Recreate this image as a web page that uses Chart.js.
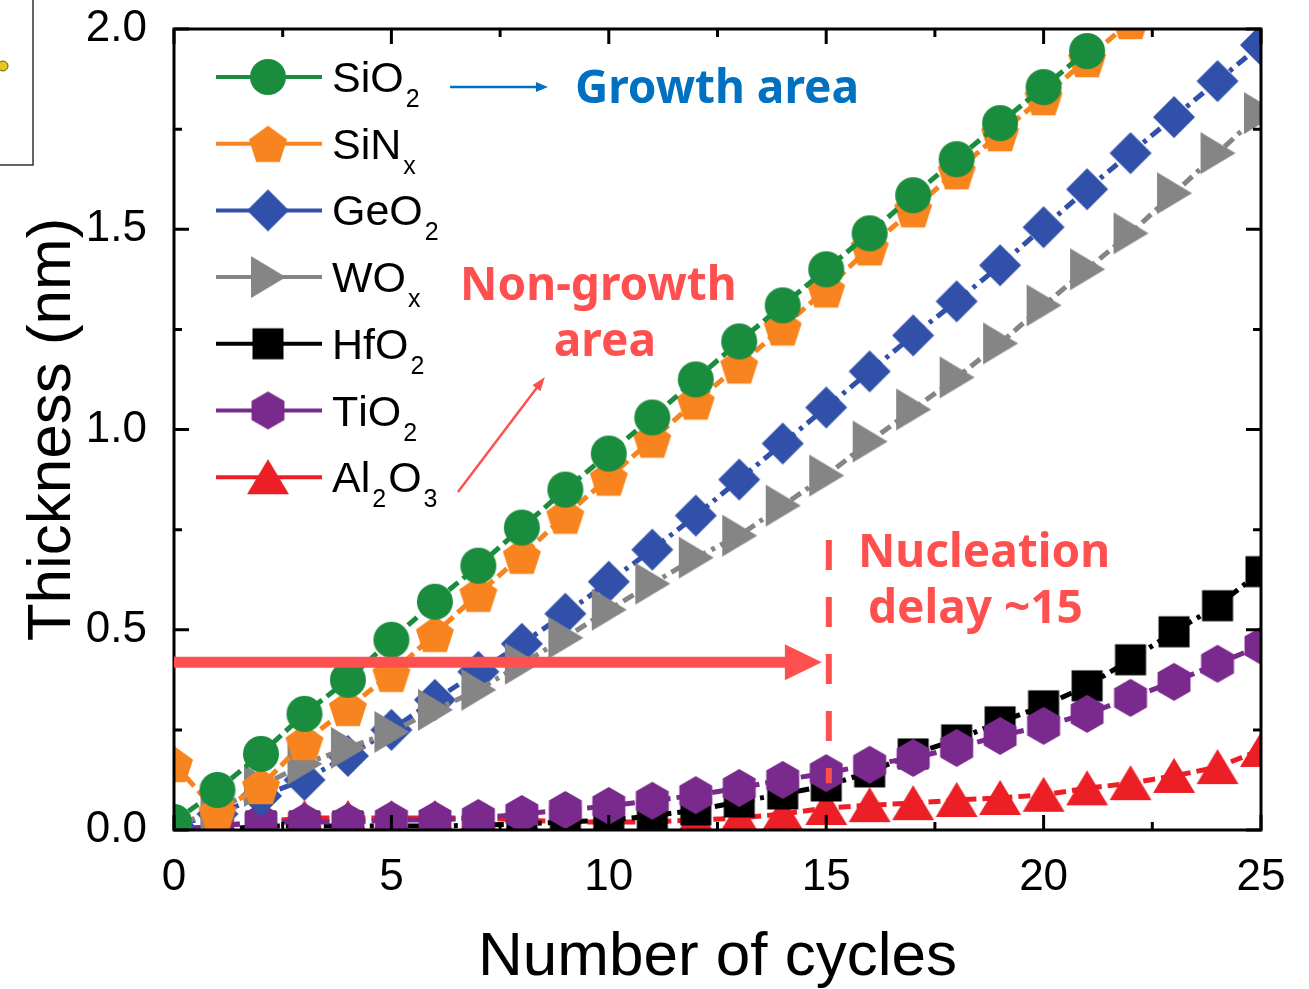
<!DOCTYPE html>
<html>
<head>
<meta charset="utf-8">
<script src="https://cdn.jsdelivr.net/npm/chart.js@4.4.1/dist/chart.umd.min.js"></script>
<style>
  html, body { margin: 0; padding: 0; background: #fff; }
  #wrap { width: 1309px; height: 989px; position: relative; }
</style>
</head>
<body>
<div id="wrap"><canvas id="chart" width="1309" height="989"></canvas></div>
<script>
/* ======================
   DATA
====================== */
const cycles = [0, 1, 2, 3, 4, 5, 6, 7, 8, 9, 10, 11, 12, 13, 14, 15, 16, 17, 18, 19, 20, 21, 22, 23, 24, 25];

const sio2  = [0.02, 0.10, 0.19, 0.29, 0.375, 0.475, 0.57, 0.66, 0.755, 0.85, 0.94, 1.03, 1.125, 1.22, 1.31, 1.40, 1.49, 1.585, 1.675, 1.765, 1.855, 1.945, null, null, null, null];
const sinx  = [0.165, 0.045, 0.11, 0.22, 0.305, 0.39, 0.49, 0.59, 0.685, 0.785, 0.88, 0.975, 1.07, 1.16, 1.255, 1.35, 1.455, 1.55, 1.645, 1.74, 1.83, 1.925, 2.02, null, null, null];
const geo2  = [0.01, 0.04, 0.085, 0.125, 0.185, 0.25, 0.325, 0.395, 0.465, 0.54, 0.62, 0.70, 0.785, 0.875, 0.965, 1.055, 1.145, 1.235, 1.32, 1.41, 1.505, 1.60, 1.69, 1.78, 1.87, 1.96];
const wox   = [0.01, 0.05, 0.11, 0.165, 0.205, 0.245, 0.30, 0.35, 0.415, 0.48, 0.55, 0.615, 0.68, 0.735, 0.81, 0.885, 0.97, 1.05, 1.13, 1.215, 1.31, 1.40, 1.49, 1.59, 1.69, 1.79];
const hfo2  = [0.0, 0.0, 0.01, 0.01, 0.01, 0.01, 0.01, 0.012, 0.015, 0.02, 0.025, 0.035, 0.05, 0.07, 0.09, 0.11, 0.145, 0.19, 0.225, 0.27, 0.31, 0.36, 0.425, 0.495, 0.56, 0.645];
const tio2  = [0.0, 0.01, 0.02, 0.02, 0.02, 0.025, 0.025, 0.03, 0.04, 0.05, 0.06, 0.073, 0.087, 0.105, 0.125, 0.142, 0.163, 0.18, 0.205, 0.235, 0.26, 0.29, 0.33, 0.37, 0.415, 0.46];
const al2o3 = [0.0, 0.01, 0.02, 0.03, 0.03, 0.03, 0.03, 0.03, 0.025, 0.02, 0.02, 0.02, 0.025, 0.03, 0.04, 0.055, 0.062, 0.067, 0.075, 0.08, 0.088, 0.104, 0.117, 0.135, 0.157, 0.2];

const names  = ["SiO_2", "SiN_x", "GeO_2", "WO_x", "HfO_2", "TiO_2", "Al_2O_3"];
const series = [sio2, sinx, geo2, wox, hfo2, tio2, al2o3];
const colors = ["#1a8c3e", "#f7841e", "#3050aa", "#858585", "#000000", "#7a2a8c", "#ec1f26"];
const shapes = ["circle", "pentagon", "diamond", "triRight", "square", "hexagon", "triUp"];
const dashes = [[12, 6], [12, 6], [12, 6, 4, 6], [12, 6, 4, 6], [4, 6, 12, 6], [12, 6], [12, 6]];
const drawOrder = [1, 2, 4, 3, 6, 5, 7];

const xTicks = [0, 5, 10, 15, 20, 25];
const yTicks = [0, 0.5, 1.0, 1.5, 2.0];

const RED = "#ff5050";
const BLUE = "#0070c0";

/* annotations, in data coordinates */
const notes = [
  { t: "Growth area", x: 9.22, y: 1.815, c: BLUE, a: "left" },
  { t: "Non-growth", x: 6.58, y: 1.323, c: RED, a: "left" },
  { t: "area", x: 9.91, y: 1.184, c: RED, a: "center" },
  { t: "Nucleation", x: 15.73, y: 0.657, c: RED, a: "left" },
  { t: "delay ~15", x: 15.96, y: 0.517, c: RED, a: "left" }
];

/* ======================
   MARKERS
====================== */
function makeMarker(shape, color) {
  const c = document.createElement("canvas");
  c.width = 48; c.height = 48;
  const g = c.getContext("2d");
  g.translate(24, 24);
  g.fillStyle = color;
  g.beginPath();
  const poly = (n, R, start) => {
    for (let k = 0; k < n; k++) {
      const a = (start + k * 360 / n) * Math.PI / 180;
      k ? g.lineTo(R * Math.cos(a), R * Math.sin(a)) : g.moveTo(R * Math.cos(a), R * Math.sin(a));
    }
    g.closePath();
  };
  if (shape === "circle") g.arc(0, 0, 18, 0, Math.PI * 2);
  else if (shape === "pentagon") { g.translate(0, 2); poly(5, 20, -90); }
  else if (shape === "diamond") poly(4, 21, -90);
  else if (shape === "square") g.rect(-15.5, -15.5, 31, 31);
  else if (shape === "hexagon") poly(6, 19, -90);
  else if (shape === "triRight") { g.moveTo(-17, -21); g.lineTo(18, 0); g.lineTo(-17, 21); g.closePath(); }
  else if (shape === "triUp") { g.moveTo(0, -18); g.lineTo(21, 17); g.lineTo(-21, 17); g.closePath(); }
  g.fill();
  return c;
}

const markers = shapes.map((s, i) => makeMarker(s, colors[i]));

/* ======================
   HELPERS
====================== */
function arrow(ctx, x1, y1, x2, y2, color, width, headLen, headHalf) {
  const ang = Math.atan2(y2 - y1, x2 - x1);
  const bx = x2 - headLen * Math.cos(ang), by = y2 - headLen * Math.sin(ang);
  ctx.save();
  ctx.strokeStyle = color; ctx.fillStyle = color; ctx.lineWidth = width;
  ctx.beginPath(); ctx.moveTo(x1, y1); ctx.lineTo(bx + Math.cos(ang), by + Math.sin(ang)); ctx.stroke();
  ctx.beginPath();
  ctx.moveTo(x2, y2);
  ctx.lineTo(bx + headHalf * Math.sin(ang), by - headHalf * Math.cos(ang));
  ctx.lineTo(bx - headHalf * Math.sin(ang), by + headHalf * Math.cos(ang));
  ctx.closePath(); ctx.fill();
  ctx.restore();
}

function drawRich(ctx, str, x, y, size, subSize, drop) {
  let cx = x;
  for (let i = 0; i < str.length; i++) {
    if (str[i] === "_") {
      ctx.font = subSize + 'px "Liberation Sans"';
      ctx.fillText(str[i + 1], cx + 2, y + drop);
      cx += ctx.measureText(str[i + 1]).width + 4;
      i++;
    } else {
      ctx.font = size + 'px "Liberation Sans"';
      ctx.fillText(str[i], cx, y);
      cx += ctx.measureText(str[i]).width;
    }
  }
}

/* ======================
   DECORATION PLUGIN
====================== */
const decor = {
  id: "decor",
  afterDatasetsDraw(chart) {
    const { ctx, chartArea: a, scales: { x, y } } = chart;
    ctx.save();

    // frame + inward ticks
    ctx.strokeStyle = "#000"; ctx.lineWidth = 3;
    ctx.strokeRect(a.left, a.top, a.right - a.left, a.bottom - a.top);
    for (let v = 0; v <= 25.001; v += 2.5) {
      const px = x.getPixelForValue(v), len = (v % 5 === 0) ? 15 : 8;
      ctx.beginPath();
      ctx.moveTo(px, a.bottom); ctx.lineTo(px, a.bottom - len);
      ctx.moveTo(px, a.top); ctx.lineTo(px, a.top + len);
      ctx.stroke();
    }
    for (let v = 0; v <= 2.001; v += 0.25) {
      const py = y.getPixelForValue(v), len = (Math.abs(v * 2 - Math.round(v * 2)) < 1e-6) ? 15 : 8;
      ctx.beginPath();
      ctx.moveTo(a.left, py); ctx.lineTo(a.left + len, py);
      ctx.moveTo(a.right, py); ctx.lineTo(a.right - len, py);
      ctx.stroke();
    }

    // axis titles
    ctx.fillStyle = "#000";
    ctx.font = '62px "Liberation Sans"';
    ctx.textAlign = "center"; ctx.textBaseline = "alphabetic";
    ctx.fillText("Number of cycles", (a.left + a.right) / 2, 975);
    ctx.save();
    ctx.translate(70, (a.top + a.bottom) / 2);
    ctx.rotate(-Math.PI / 2);
    ctx.fillText("Thickness (nm)", 0, 0);
    ctx.restore();

    // legend
    ctx.textAlign = "left";
    names.forEach((n, i) => {
      const cy = 77 + i * 66.7;
      ctx.strokeStyle = colors[i]; ctx.lineWidth = 4; ctx.setLineDash([]);
      ctx.beginPath(); ctx.moveTo(216, cy); ctx.lineTo(322, cy); ctx.stroke();
      const m = markers[i];
      ctx.drawImage(m, 268 - m.width / 2, cy - m.height / 2);
      ctx.fillStyle = "#000";
      drawRich(ctx, n, 332, cy + 15, 43, 25, 15);
    });

    // annotations
    ctx.font = 'bold 46px "Noto Sans"';
    notes.forEach(n => {
      ctx.fillStyle = n.c; ctx.textAlign = n.a;
      ctx.fillText(n.t, x.getPixelForValue(n.x), y.getPixelForValue(n.y));
    });
    const P = (vx, vy) => [x.getPixelForValue(vx), y.getPixelForValue(vy)];
    arrow(ctx, ...P(6.35, 1.855), ...P(8.60, 1.855), BLUE, 2.5, 12, 5);
    arrow(ctx, ...P(6.53, 0.844), ...P(8.53, 1.131), RED, 2.5, 14, 5);
    arrow(ctx, ...P(0, 0.419), ...P(14.90, 0.419), RED, 11, 37, 18);

    ctx.strokeStyle = RED; ctx.lineWidth = 6; ctx.setLineDash([30, 27]);
    ctx.beginPath();
    ctx.moveTo(...P(15.06, 0.724)); ctx.lineTo(...P(15.06, 0.117));
    ctx.stroke();
    ctx.setLineDash([]);

    // remnant of neighbouring panel, top-left
    ctx.strokeStyle = "#333"; ctx.lineWidth = 1.5;
    ctx.beginPath(); ctx.moveTo(33, 0); ctx.lineTo(33, 165); ctx.lineTo(0, 165); ctx.stroke();
    ctx.fillStyle = "#e6c619"; ctx.strokeStyle = "#6b5a10"; ctx.lineWidth = 1;
    ctx.beginPath(); ctx.arc(3, 66, 5, 0, Math.PI * 2); ctx.fill(); ctx.stroke();

    ctx.restore();
  }
};

/* ======================
   CHART
====================== */
const datasets = series.map((vals, i) => ({
  label: names[i],
  data: cycles.map((c, k) => ({ x: c, y: vals[k] })),
  borderColor: colors[i],
  backgroundColor: colors[i],
  borderWidth: 5,
  borderDash: dashes[i],
  pointStyle: markers[i],
  pointRadius: 19,
  pointBorderWidth: 0,
  tension: 0,
  clip: 0,
  order: drawOrder[i]
}));

const tickFont = { family: "Liberation Sans", size: 44 };

new Chart(document.getElementById("chart"), {
  type: "line",
  data: { datasets },
  options: {
    responsive: false,
    animation: false,
    devicePixelRatio: 1,
    layout: { padding: { left: 0, top: 29, right: 48, bottom: 0 } },
    plugins: { legend: { display: false }, tooltip: { enabled: false } },
    scales: {
      x: {
        type: "linear", min: 0, max: 25,
        afterFit: s => { s.height = 159; s.paddingLeft = 0; s.paddingRight = 0; },
        afterBuildTicks: s => { s.ticks = xTicks.map(v => ({ value: v })); },
        grid: { display: false }, border: { display: false },
        ticks: { padding: 13, color: "#000", font: tickFont, maxRotation: 0, autoSkip: false }
      },
      y: {
        type: "linear", min: 0, max: 2,
        afterFit: s => { s.width = 174; s.paddingTop = 0; s.paddingBottom = 0; },
        afterBuildTicks: s => { s.ticks = yTicks.map(v => ({ value: v })); },
        grid: { display: false }, border: { display: false },
        ticks: { padding: 19, color: "#000", font: tickFont, callback: v => Number(v).toFixed(1) }
      }
    }
  },
  plugins: [decor]
});
</script>
</body>
</html>
